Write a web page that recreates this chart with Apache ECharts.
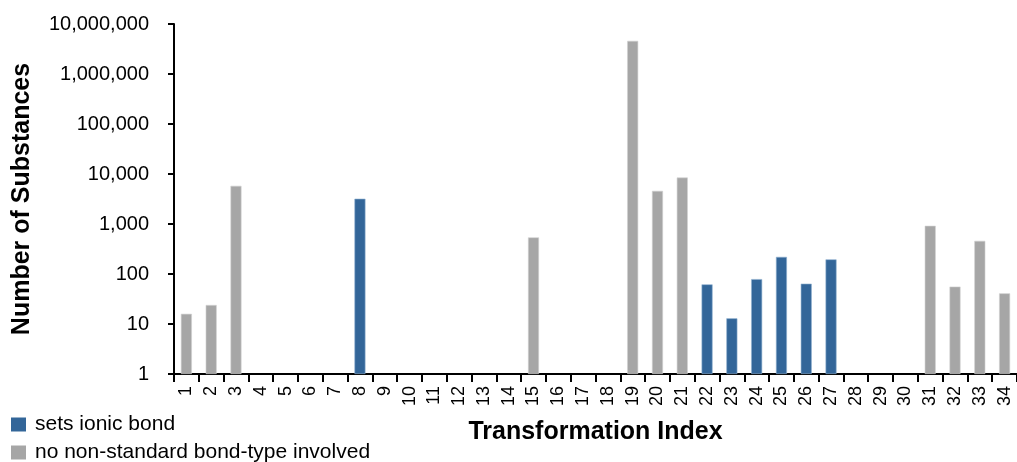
<!DOCTYPE html>
<html><head><meta charset="utf-8">
<script src="https://cdn.jsdelivr.net/npm/echarts@6/dist/echarts.min.js"></script>
<style>html,body{margin:0;padding:0;background:#fff}#c{width:1017px;height:462px}</style>
</head><body><div id="c"></div>
<script>
const categories = Array.from({length:34},(_,i)=>String(i+1));
const ionicIdx = [8,22,23,24,25,26,27];
const ionicVals = [3200,62,13,79,220,64,196];
const stdIdx = [1,2,3,15,19,20,21,31,32,33,34];
const stdVals = [16,24,5800,540,4600000,4600,8500,920,56,460,41];
const yTicks = ['1','10','100','1,000','10,000','100,000','1,000,000','10,000,000'];

function fill(idx, vals){
  const arr = categories.map(()=>null);
  idx.forEach((k,i)=>{arr[k-1]=vals[i];});
  return arr;
}
const chart = echarts.init(document.getElementById('c'));
const F = 'Liberation Sans, Arial, sans-serif';
chart.setOption({
  animation:false,
  grid:{left:174,top:24,width:849,bottom:88},
  legend:{orient:'vertical',left:11,top:414,height:60,padding:0,itemWidth:15,itemHeight:14,itemGap:7,icon:'rect',
    itemStyle:{borderWidth:0},
    textStyle:{fontFamily:F,fontSize:21,color:'#000',padding:[0,0,0,4]},
    data:['sets ionic bond','no non-standard bond-type involved']},
  xAxis:{type:'category',data:categories,
    name:'Transformation Index',nameLocation:'middle',nameGap:46,
    nameTextStyle:{fontFamily:F,fontSize:25,fontWeight:'bold',color:'#000'},
    axisLine:{lineStyle:{color:'#000',width:2}},
    axisTick:{show:true,alignWithLabel:false,length:8,lineStyle:{color:'#000',width:2}},
    axisLabel:{rotate:90,fontFamily:F,fontSize:18,color:'#000',margin:12,interval:0}},
  yAxis:{type:'log',logBase:10,min:1,max:10000000,
    name:'Number of Substances',nameLocation:'middle',nameGap:139,
    nameTextStyle:{fontFamily:F,fontSize:25,fontWeight:'bold',color:'#000'},
    axisLine:{show:true,lineStyle:{color:'#000',width:2}},
    axisTick:{show:true,length:6,lineStyle:{color:'#000',width:2}},
    splitLine:{show:false},minorTick:{show:false},
    axisLabel:{fontFamily:F,fontSize:20,color:'#000',margin:25,
      formatter:v=>yTicks[Math.round(Math.log10(v))]}},
  series:[
    {name:'sets ionic bond',type:'bar',data:fill(ionicIdx,ionicVals),barWidth:11,barGap:'-100%',
      itemStyle:{color:'#336699',borderColor:'#8fb0d0',borderWidth:0.6}},
    {name:'no non-standard bond-type involved',type:'bar',data:fill(stdIdx,stdVals),barWidth:11,
      itemStyle:{color:'#a6a6a6',borderColor:'#d0d0d0',borderWidth:0.6}}
  ]
});
</script></body></html>
